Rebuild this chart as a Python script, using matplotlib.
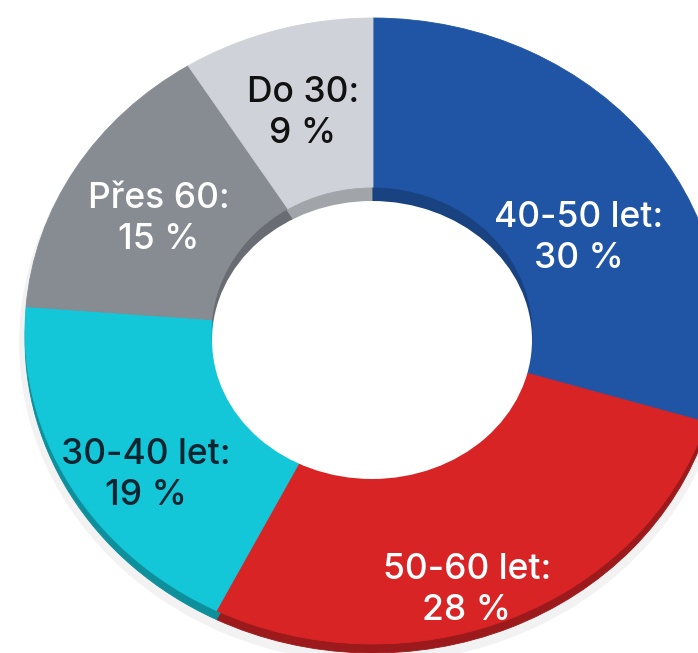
import matplotlib
matplotlib.use('Agg')
import matplotlib.pyplot as plt
from matplotlib.patches import Ellipse
import matplotlib.colors as mcolors

# ---- data ----
categories = ['40-50 let', '50-60 let', '30-40 let', 'Přes 60', 'Do 30']
values = [30, 28, 19, 15, 9]
pct_labels = ['30 %', '28 %', '19 %', '15 %', '9 %']

# ---- style ----
colors = ['#2054a5', '#d92426', '#14c7d8', '#878b92', '#cfd2d8']
text_colors = ['white', 'white', '#0b2530', 'white', '#111111']
# label block centres in pixels (layout)
label_pos = [(579, 238), (467, 590), (146, 475), (159, 219), (303, 113)]

W, H = 698, 653
fig = plt.figure(figsize=(W / 100, H / 100), dpi=100)
fig.patch.set_facecolor('white')
plt.rcParams['font.family'] = ['Inter', 'DejaVu Sans']


def shade(c, f):
    r, g, b = mcolors.to_rgb(c)
    return (r * f, g * f, b * f)


def new_axes():
    ax = fig.add_axes([0, 0, 1, 1])
    ax.axis('off')
    ax.patch.set_alpha(0)
    return ax


def fit_axes(ax, cx, cy, rx, ry):
    ax.set_aspect('auto')
    ax.set_xlim(-cx / rx, (W - cx) / rx)
    ax.set_ylim(-(H - cy) / ry, cy / ry)
    ax.set_position([0, 0, 1, 1])


pie_kw = dict(startangle=90, counterclock=False, radius=1.0)

# soft shadow
ax0 = new_axes()
ax0.add_patch(Ellipse((0, 0), 2, 2, color='#000000', alpha=0.05, lw=0))
fit_axes(ax0, 373, 343, 354, 320)

# side (3D rim)
ax1 = new_axes()
side = [shade(c, 0.72) for c in colors]
w1, _ = ax1.pie(values, colors=side, **pie_kw)
for w, c in zip(w1, side):
    w.set_edgecolor(c)
    w.set_linewidth(0.6)
fit_axes(ax1, 373, 340, 348, 313)

# top face
ax2 = new_axes()
w2, _ = ax2.pie(values, colors=colors, **pie_kw)
for w, c in zip(w2, colors):
    w.set_edgecolor(c)
    w.set_linewidth(0.6)
fit_axes(ax2, 373, 331, 348, 313)

# inner wall of the hole
ax3 = new_axes()
inner = [shade(c, 0.78) for c in colors]
w3, _ = ax3.pie(values, colors=inner, **pie_kw)
for w, c in zip(w3, inner):
    w.set_edgecolor(c)
    w.set_linewidth(0.6)
ax3.add_patch(Ellipse((0, -7 / 145), 2 * 160 / 160, 2 * 139 / 145,
                      facecolor='white', edgecolor='none'))
fit_axes(ax3, 372, 333, 160, 145)

# labels
for cat, p, (px, py), tc in zip(categories, pct_labels, label_pos, text_colors):
    fig.text(px / W, 1 - py / H, f'{cat}:\n{p}', ha='center', va='center',
             fontsize=25.5, fontweight=500, color=tc, linespacing=1.3)

fig.savefig('out.png', dpi=100, facecolor='white')
